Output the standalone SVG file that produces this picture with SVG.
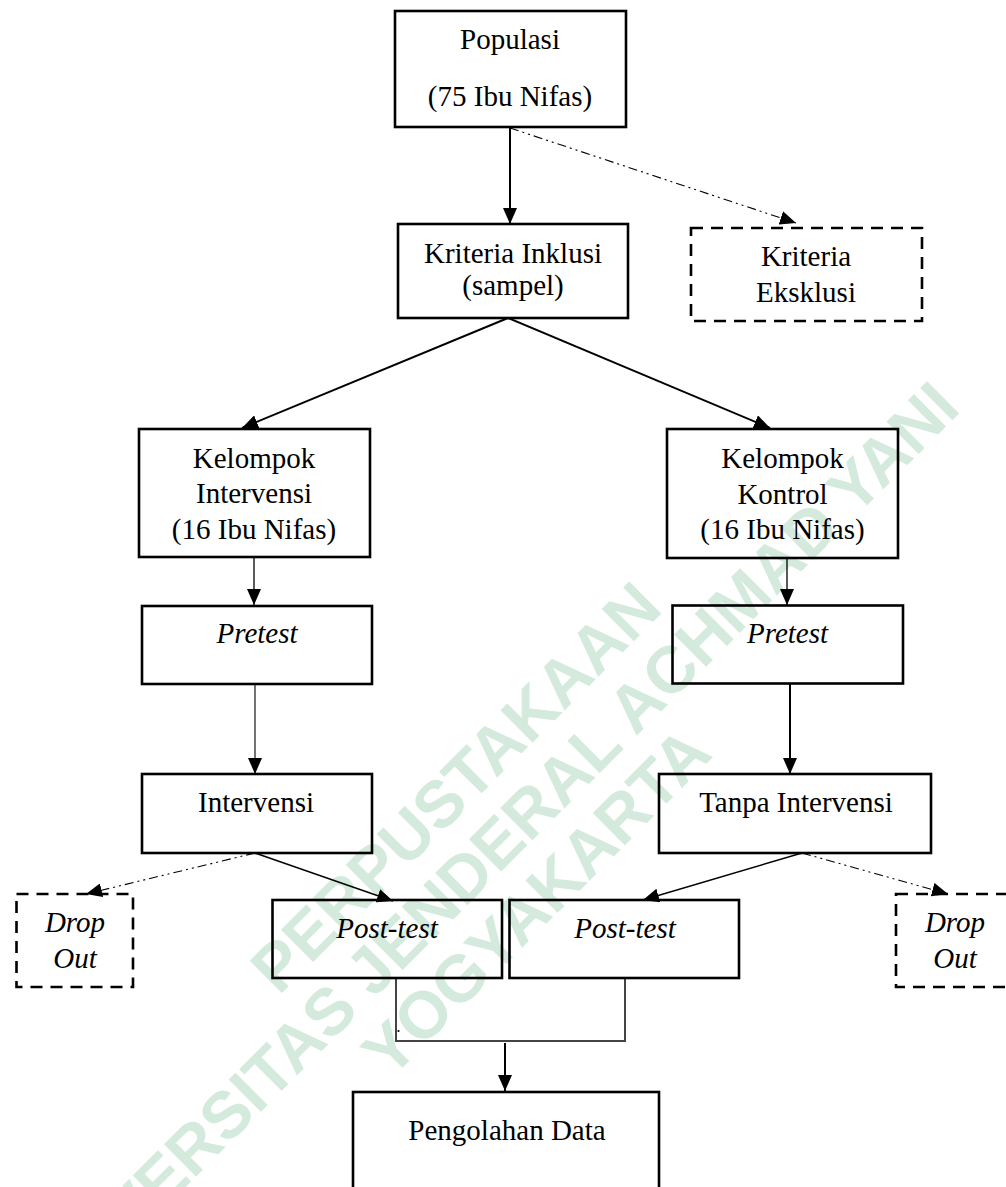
<svg xmlns="http://www.w3.org/2000/svg" width="1006" height="1187" viewBox="0 0 1006 1187">
<style>
.bg{fill:#ffffff}
.box{fill:none;stroke:#000;stroke-width:2.6}
.dbox{fill:none;stroke:#000;stroke-width:2.6;stroke-dasharray:12 8}
.t{font-family:"Liberation Serif","Times New Roman",serif;font-size:29px;fill:#000;text-anchor:middle}
.i{font-style:italic}
.wm{font-family:"Liberation Sans",Arial,sans-serif;font-weight:bold;font-size:66px;fill:#d3eadd;text-anchor:middle}
.c{fill:none;stroke:#000}
.dd{fill:none;stroke:#000;stroke-width:1.1;stroke-dasharray:9 4 2 4 2 4}
</style>
<defs>
<marker id="ah" markerUnits="userSpaceOnUse" markerWidth="16" markerHeight="14" refX="16" refY="7" orient="auto">
<path d="M0,0 L16,7 L0,14 z" fill="#000"/>
</marker>
</defs>
<rect class="bg" x="0" y="0" width="1006" height="1187"/>
<g id="watermark" transform="translate(490,850) rotate(-45)">
<text class="wm" x="20" y="-46">PERPUSTAKAAN</text>
<text class="wm" x="0" y="23">UNIVERSITAS JENDERAL ACHMAD YANI</text>
<text class="wm" x="-4" y="92">YOGYAKARTA</text>
</g>
<g id="connectors">
<line class="c" stroke-width="2" x1="510" y1="127" x2="510" y2="224" marker-end="url(#ah)"/>
<line class="dd" x1="510" y1="128" x2="796" y2="223" marker-end="url(#ah)"/>
<line class="c" stroke-width="2" x1="508" y1="318" x2="242" y2="428" marker-end="url(#ah)"/>
<line class="c" stroke-width="2" x1="508" y1="318" x2="770" y2="428" marker-end="url(#ah)"/>
<line class="c" stroke-width="1.3" x1="254" y1="557" x2="254" y2="605" marker-end="url(#ah)"/>
<line class="c" stroke-width="1.3" x1="787" y1="558" x2="787" y2="605" marker-end="url(#ah)"/>
<line class="c" stroke-width="1.1" x1="255" y1="684" x2="255" y2="774" marker-end="url(#ah)"/>
<line class="c" stroke-width="2" x1="790" y1="684" x2="790" y2="774" marker-end="url(#ah)"/>
<line class="dd" x1="255" y1="853" x2="86" y2="894" marker-end="url(#ah)"/>
<line class="c" stroke-width="1.4" x1="255" y1="853" x2="393" y2="901" marker-end="url(#ah)"/>
<line class="c" stroke-width="1.4" x1="802" y1="853" x2="643" y2="900" marker-end="url(#ah)"/>
<line class="dd" x1="802" y1="853" x2="948" y2="894" marker-end="url(#ah)"/>
<path d="M396,978 V1041 H625 V978" fill="none" stroke="#444" stroke-width="2"/>
<circle cx="398.5" cy="1031" r="1.1" fill="#000"/>
<line class="c" stroke-width="2" x1="505" y1="1043" x2="505" y2="1091" marker-end="url(#ah)"/>
</g>
<g id="populasi">
<rect class="box" x="395" y="11" width="231" height="116"/>
<text class="t" x="510" y="49">Populasi</text>
<text class="t" x="510" y="106">(75 Ibu Nifas)</text>
</g>
<g id="kriteria-inklusi">
<rect class="box" x="398" y="224" width="230" height="94"/>
<text class="t" x="513" y="263">Kriteria Inklusi</text>
<text class="t" x="513" y="295">(sampel)</text>
</g>
<g id="kriteria-eksklusi">
<rect class="dbox" x="691" y="228" width="231" height="93"/>
<text class="t" x="806" y="266">Kriteria</text>
<text class="t" x="806" y="302">Eksklusi</text>
</g>
<g id="kelompok-intervensi">
<rect class="box" x="139" y="429" width="231" height="128"/>
<text class="t" x="254" y="468">Kelompok</text>
<text class="t" x="254" y="503">Intervensi</text>
<text class="t" x="254" y="539">(16 Ibu Nifas)</text>
</g>
<g id="kelompok-kontrol">
<rect class="box" x="667" y="429" width="231" height="129"/>
<text class="t" x="782.5" y="468">Kelompok</text>
<text class="t" x="782.5" y="504">Kontrol</text>
<text class="t" x="782.5" y="539">(16 Ibu Nifas)</text>
</g>
<g id="pretest-intervensi">
<rect class="box" x="142" y="606" width="230" height="78"/>
<text class="t i" x="257" y="643">Pretest</text>
</g>
<g id="pretest-kontrol">
<rect class="box" x="672.5" y="605.5" width="230.5" height="78"/>
<text class="t i" x="787.5" y="643">Pretest</text>
</g>
<g id="intervensi">
<rect class="box" x="142" y="774" width="230" height="79"/>
<text class="t" x="256" y="812">Intervensi</text>
</g>
<g id="tanpa-intervensi">
<rect class="box" x="659" y="774" width="272" height="79"/>
<text class="t" x="796" y="812">Tanpa Intervensi</text>
</g>
<g id="drop-out-kiri">
<rect class="dbox" x="16.5" y="894" width="116.5" height="93"/>
<text class="t i" x="75" y="932">Drop</text>
<text class="t i" x="75" y="968">Out</text>
</g>
<g id="drop-out-kanan">
<rect class="dbox" x="896" y="894" width="118" height="93"/>
<text class="t i" x="955" y="932">Drop</text>
<text class="t i" x="955" y="968">Out</text>
</g>
<g id="posttest-intervensi">
<rect class="box" x="272.5" y="900" width="229.5" height="78"/>
<text class="t i" x="387" y="938">Post-test</text>
</g>
<g id="posttest-kontrol">
<rect class="box" x="509.5" y="900" width="229.5" height="78"/>
<text class="t i" x="625" y="938">Post-test</text>
</g>
<g id="pengolahan-data">
<rect class="box" x="353" y="1092" width="306" height="110"/>
<text class="t" x="507" y="1140">Pengolahan Data</text>
</g>
</svg>
